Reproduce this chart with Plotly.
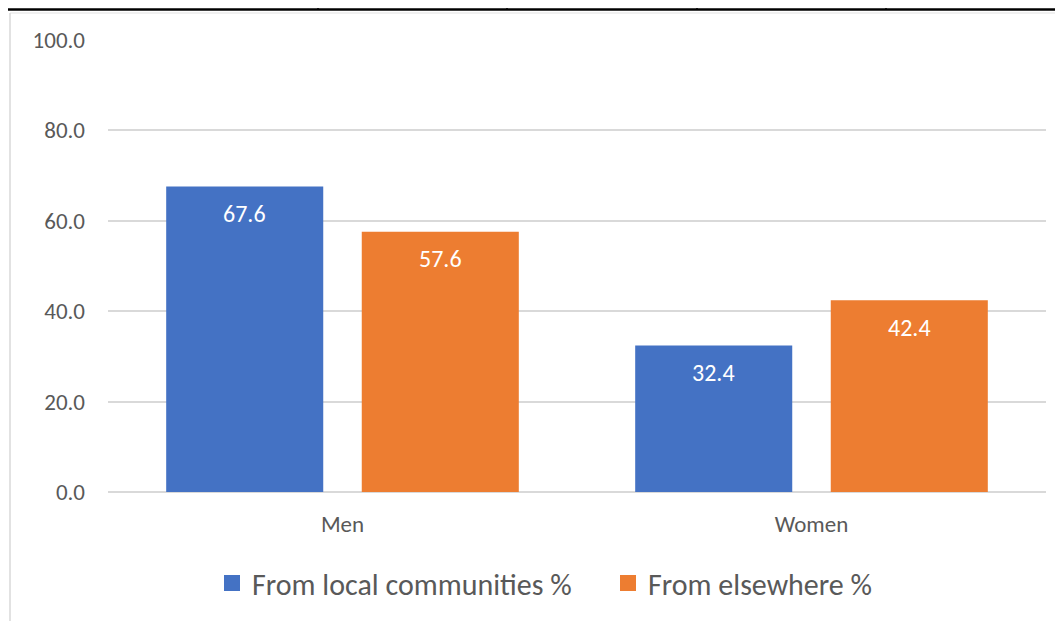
import plotly.graph_objects as go

groups = ["Men", "Women"]
local_pct = [67.6, 32.4]
elsewhere_pct = [57.6, 42.4]
series_names = ["From local communities %", "From elsewhere %"]
series_colors = ["#4472C4", "#ED7D31"]
y_ticks = [0, 20, 40, 60, 80, 100]

font_family = "Carlito, Calibri, sans-serif"
bargap = 0.166
slot_px = 938 / len(groups) * (1 - bargap) / 2

fig = go.Figure()
for vals, name, col in zip([local_pct, elsewhere_pct], series_names, series_colors):
    fig.add_trace(go.Bar(x=groups, y=vals, name=name, showlegend=False,
                         marker=dict(color=col, line=dict(width=0))))
# legend entries with bigger square swatches
for name, col in zip(series_names, series_colors):
    fig.add_trace(go.Scatter(x=[None], y=[None], mode="markers", name=name,
                             marker=dict(symbol="square", size=18, color=col)))

# value labels, placed a little below the top of each bar
for k, vals in enumerate([local_pct, elsewhere_pct]):
    for g, v in zip(groups, vals):
        fig.add_annotation(x=g, y=v, text=f"{v:.1f}", showarrow=False,
                           xshift=(k - 0.5) * slot_px, yshift=-27, yanchor="middle",
                           font=dict(color="white", size=24, family=font_family))

# page decorations: table border above and the chart frame
def px_x(p):
    return (p - 108) / 938

def px_y(p):
    return (492 - p) / 452

fig.add_shape(type="line", xref="paper", yref="paper", x0=px_x(0), x1=px_x(1063),
              y0=px_y(9.5), y1=px_y(9.5), line=dict(color="black", width=2.5))
for xp in [318, 507, 697, 886]:
    fig.add_shape(type="line", xref="paper", yref="paper", x0=px_x(xp), x1=px_x(xp),
                  y0=px_y(9.5), y1=px_y(0), line=dict(color="black", width=1.5))
fig.add_shape(type="line", xref="paper", yref="paper", x0=px_x(10), x1=px_x(1063),
              y0=px_y(13), y1=px_y(13), line=dict(color="#EBEBEB", width=1.5))
fig.add_shape(type="line", xref="paper", yref="paper", x0=px_x(10), x1=px_x(10),
              y0=px_y(13), y1=px_y(640), line=dict(color="#D9D9D9", width=1.5))

fig.update_layout(
    width=1063, height=621,
    margin=dict(l=100, r=25, t=32, b=137),
    paper_bgcolor="white", plot_bgcolor="white",
    barmode="group", bargap=bargap, bargroupgap=0.197,
    font=dict(family=font_family, color="#595959", size=23),
    showlegend=True,
    legend=dict(orientation="h", x=px_x(212), xanchor="left", y=px_y(583), yanchor="middle",
                font=dict(size=30, color="#595959"), itemwidth=30, traceorder="normal",
                entrywidth=351),
    xaxis=dict(showgrid=False, showline=False, ticks="", tickfont=dict(size=23),
               ticklabelstandoff=16),
    yaxis=dict(range=[0, 100], tickvals=y_ticks, tickformat=".1f", showgrid=True,
               gridcolor="#D9D9D9", gridwidth=1.5, zeroline=True, zerolinecolor="#D9D9D9",
               zerolinewidth=1.5, showline=False, ticks="", ticklabelstandoff=22,
               tickfont=dict(size=23)),
)

fig.write_html("out.html")
